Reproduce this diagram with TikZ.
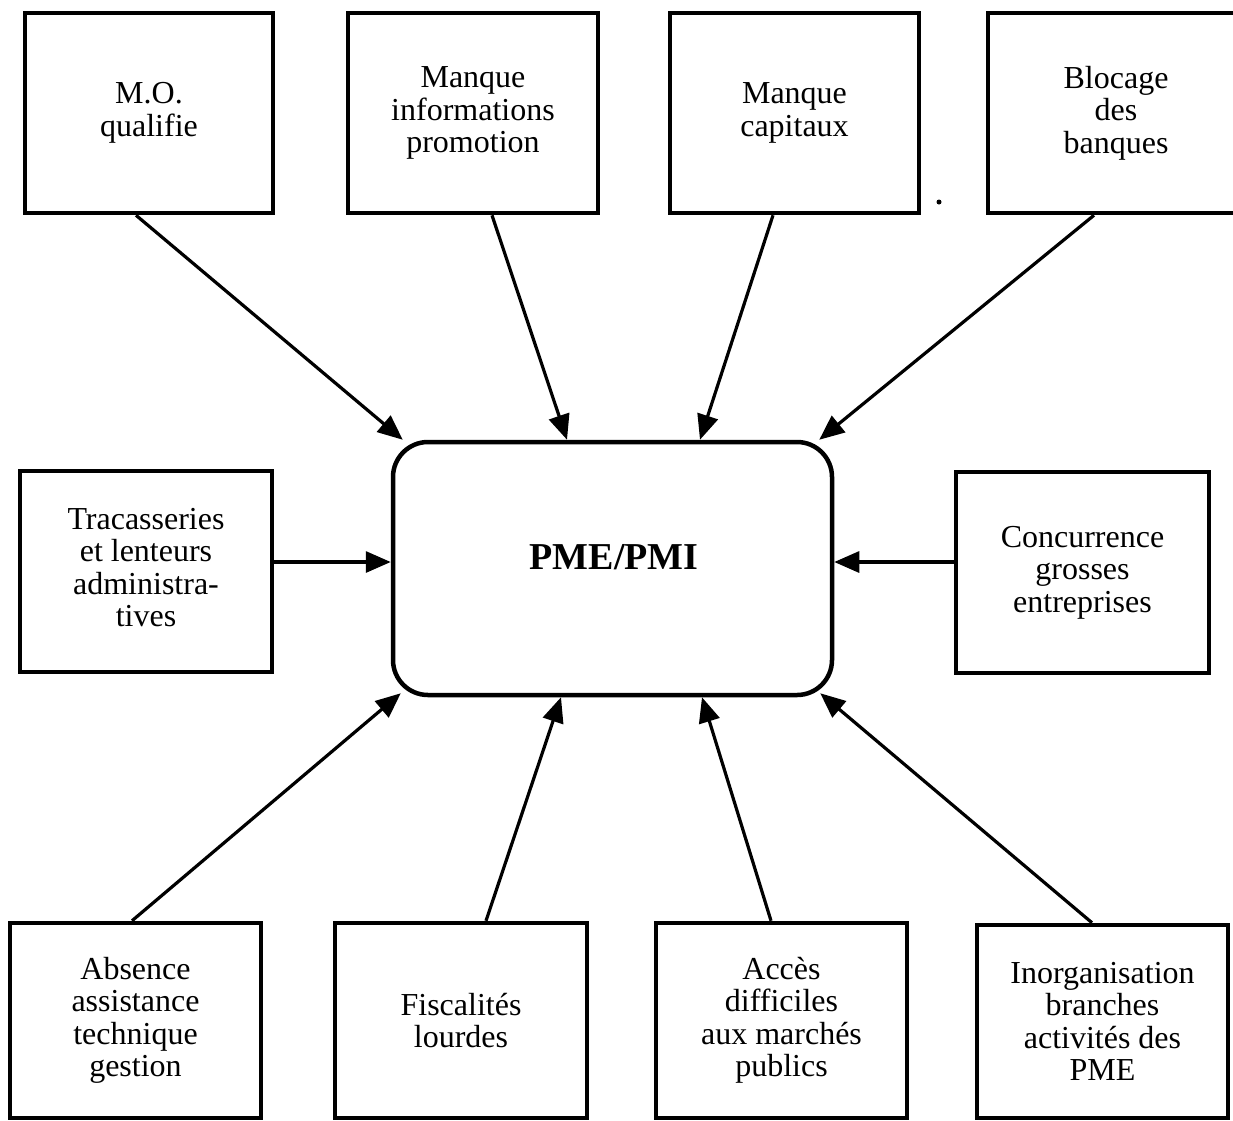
\documentclass[tikz,border=0pt]{standalone}
\usepackage{fontspec}
\setmainfont{Liberation Serif}
\usetikzlibrary{arrows.meta,calc}
\tikzset{
  box/.style={draw, line width=4.5pt, rectangle, inner sep=0pt, align=center,
    font=\fontsize{32}{32.5}\selectfont},
  central/.style={draw, line width=4.5pt, rectangle, rounded corners=35pt, inner sep=0pt,
    align=center},
  arr/.style={line width=3.2pt, line cap=butt, -{Triangle[length=25pt,width=21pt]}}
}
\begin{document}
\begin{tikzpicture}[x=1pt,y=-1pt]
\useasboundingbox (0,0) rectangle (1233,1120);
\clip (0,0) rectangle (1233,1120);
% top row
\node[box, minimum width=248pt, minimum height=200pt] (mo) at (149,113) {M.O.\\qualifie};
\node[box, minimum width=250pt, minimum height=200pt] (info) at (473,113) {Manque\\informations\\promotion};
\node[box, minimum width=249pt, minimum height=200pt] (cap) at (794.5,113) {Manque\\capitaux};
\node[box, minimum width=256pt, minimum height=200pt] (bloc) at (1116,113) {Blocage\\des\\banques};
% middle row
\node[box, minimum width=252pt, minimum height=201pt] (trac) at (146,571.5) {\raisebox{5pt}{\begin{tabular}{@{}c@{}}Tracasseries\\et lenteurs\\administra-\\tives\end{tabular}}};
\node[central, minimum width=439pt, minimum height=253pt] (pme) at (612.5,568.5) {};
\node[font=\fontsize{38}{40}\selectfont\bfseries, inner sep=0pt] (pmetxt) at (614,557) {PME/PMI};
\node[box, minimum width=253pt, minimum height=201pt] (conc) at (1082.5,572.5) {Concurrence\\grosses\\entreprises};
% bottom row
\node[box, minimum width=251pt, minimum height=195pt] (abs) at (135.5,1020.5) {Absence\\assistance\\technique\\gestion};
\node[box, minimum width=252pt, minimum height=195pt] (fisc) at (461,1020.5) {Fiscalités\\lourdes};
\node[box, minimum width=251pt, minimum height=195pt] (acc) at (781.5,1020.5) {Accès\\difficiles\\aux marchés\\publics};
\node[box, minimum width=251pt, minimum height=193pt] (inorg) at (1102.5,1021.5) {Inorganisation\\branches\\activités des\\PME};
% connectors from the top
\draw[arr] ([xshift=-13pt]mo.south) -- ([xshift=12pt]pme.north west);
\draw[arr] ([xshift=19pt]info.south) -- ([xshift=-45.5pt]pme.north);
\draw[arr] ([xshift=-21.5pt]cap.south) -- ([xshift=87.5pt]pme.north);
\draw[arr] ([xshift=-22pt]bloc.south) -- ([xshift=-15pt]pme.north east);
% connectors from the sides
\coordinate (t1) at ([yshift=9.5pt]trac.east);
\draw[arr] (t1) -- (t1 -| pme.west);
\coordinate (c1) at ([yshift=10.5pt]conc.west);
\draw[arr] (c1) -- (c1 -| pme.east);
% connectors from the bottom
\draw[arr] ([xshift=-3.5pt]abs.north) -- ([xshift=10pt,yshift=4pt]pme.south west);
\draw[arr] ([xshift=25pt]fisc.north) -- ([xshift=-51.5pt]pme.south);
\draw[arr] ([xshift=-10.5pt]acc.north) -- ([xshift=89.5pt]pme.south);
\draw[arr] ([xshift=-10.5pt]inorg.north) -- ([xshift=-14pt,yshift=4pt]pme.south east);
% stray mark
\fill (939,202) circle (2.5pt);
\end{tikzpicture}
\end{document}
